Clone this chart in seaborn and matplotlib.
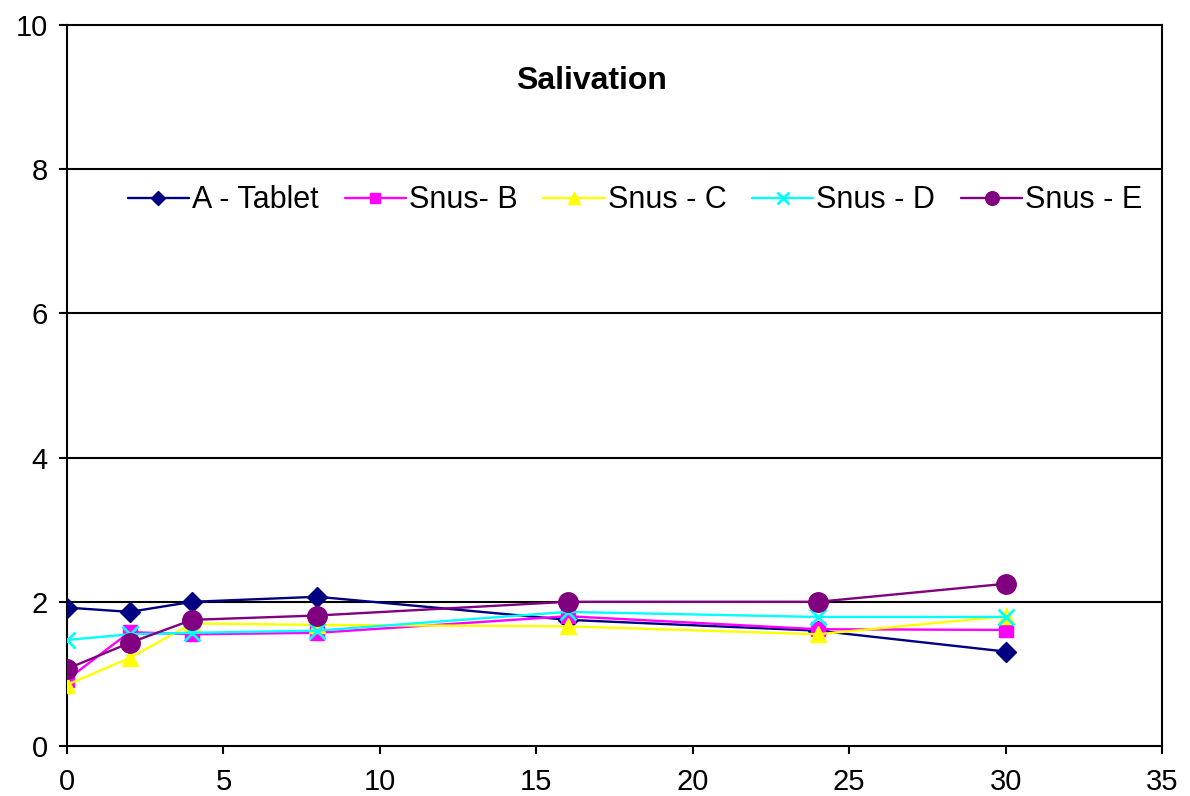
import matplotlib
matplotlib.use("Agg")
import matplotlib.pyplot as plt
import seaborn as sns
import pandas as pd

# Minutes after start
times = [0, 2, 4, 8, 16, 24, 30]

# Salivation scores per product
tablet_a = [1.92, 1.86, 2.00, 2.07, 1.75, 1.60, 1.31]
snus_b = [0.92, 1.58, 1.55, 1.57, 1.80, 1.62, 1.61]
snus_c = [0.85, 1.22, 1.70, 1.68, 1.66, 1.55, 1.80]
snus_d = [1.47, 1.55, 1.57, 1.60, 1.86, 1.79, 1.79]
snus_e = [1.07, 1.43, 1.75, 1.81, 2.00, 2.00, 2.25]

labels = ["A - Tablet", "Snus- B", "Snus - C", "Snus - D", "Snus - E"]
series = [tablet_a, snus_b, snus_c, snus_d, snus_e]

colors = ["#000080", "#FF00FF", "#FFFF00", "#00FFFF", "#800080"]
markers = ["D", "s", "^", "x", "o"]
msizes = [10, 10, 12, 12, 14]

sns.set_theme(style="white")
plt.rcParams["font.family"] = ["Liberation Sans", "DejaVu Sans"]
plt.rcParams["text.color"] = "black"
plt.rcParams["legend.labelcolor"] = "black"

fig = plt.figure(figsize=(11.9, 7.96), dpi=100)
ax = fig.add_axes([0.0563, 0.0628, 0.9202, 0.9058])

for lab, vals, col, mk, ms in zip(labels, series, colors, markers, msizes):
    df = pd.DataFrame({"t": times, "v": vals})
    sns.lineplot(data=df, x="t", y="v", ax=ax, color=col, marker=mk,
                 markersize=ms, markeredgecolor=col, markeredgewidth=2 if mk == "x" else 1,
                 linewidth=1.7, label=lab, zorder=3)

ax.set_xlim(0, 35)
ax.set_ylim(0, 10)
ax.set_xticks([0, 5, 10, 15, 20, 25, 30, 35])
ax.set_yticks([0, 2, 4, 6, 8, 10])
ax.set_xlabel("")
ax.set_ylabel("")

for y in [2, 4, 6, 8]:
    ax.axhline(y, color="black", linewidth=1.5, zorder=1)

for side in ["left", "bottom", "right", "top"]:
    ax.spines[side].set_visible(True)
    ax.spines[side].set_color("black")
    ax.spines[side].set_linewidth(1.5)

ax.tick_params(axis="both", which="major", direction="out", length=6, width=1.5,
               colors="black", labelsize=21, bottom=True, left=True)
ax.tick_params(axis="y", pad=8)
ax.tick_params(axis="x", pad=10)

ax.text(0.479, 0.922, "Salivation", transform=ax.transAxes, ha="center", va="center",
        fontsize=23, fontweight="bold", color="black")

ax.legend(loc="center", bbox_to_anchor=(0.519, 0.757), ncol=5, frameon=False,
          fontsize=22, handlelength=2.0, handletextpad=0.1, columnspacing=0.85,
          markerscale=0.7)

fig.savefig("out.png", dpi=100)
